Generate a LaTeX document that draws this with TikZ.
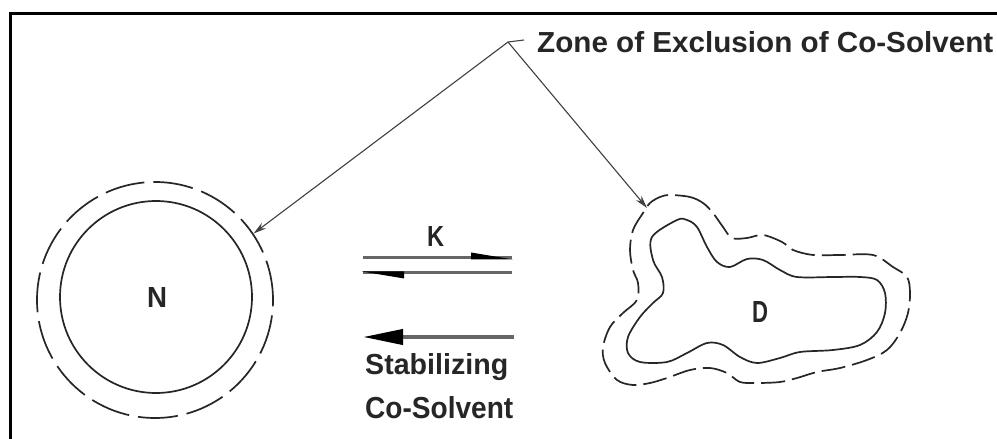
\documentclass[tikz,border=0pt]{standalone}
\usepackage{fontspec}
\setmainfont{Liberation Sans}
\usetikzlibrary{arrows.meta}
\newcommand{\fitlbl}[3]{\resizebox{#1bp}{#2bp}{\bfseries #3}}
\begin{document}
\begin{tikzpicture}[x=1bp,y=-1bp,
  lbl/.style={inner sep=0pt, anchor=base west, text=black!85},
  rim/.style={line width=1.7bp, draw=black!85},
  zonerim/.style={line width=1.7bp, draw=black!85, dash pattern=on 40bp off 9bp},
  droprim/.style={line width=1.7bp, draw=black!85, dash pattern=on 24bp off 7bp},
  leader/.style={line width=1.1bp, draw=black!75, -{Stealth[length=13bp,width=7bp]}},
  eqline/.style={line width=3bp, draw=black!60},
  barb/.style={fill=black}
]
\useasboundingbox (0,0) rectangle (997,439);
\fill[white] (0,0) rectangle (997,439);
% frame
\draw[line width=3bp, black] (10,440) -- (10,14) -- (998,14);

% native state N
\node[circle, rim, minimum size=192bp, inner sep=0pt] (Ncore) at (156,297) {};
\node[circle, zonerim, minimum size=236bp, inner sep=0pt] (Nzone) at (155,300) {};
\node[lbl] (Nlbl) at (147,308) {\fitlbl{20}{20}{N}};

% denatured state D
\draw[rim] plot[smooth cycle, tension=0.55] coordinates {
 (677,220) (652,237) (653,260) (662,277) (663,293) (653,303) (640,317) (628,337)
 (628,353) (640,362) (667,362) (687,353) (707,343) (723,345) (740,357) (757,363)
 (780,358) (800,352) (833,350) (860,345) (877,332) (885,313) (885,293) (877,280)
 (860,277) (833,277) (797,277) (780,270) (763,260) (747,259) (730,267) (717,262)
 (707,247) (697,227) (687,220)};
\draw[droprim] plot[smooth cycle, tension=0.55] coordinates {
 (670,195) (690,197) (703,203) (713,213) (723,227) (732,238) (747,238) (763,235)
 (782,242) (793,250) (813,255) (840,255) (873,255) (893,267) (907,277) (910,293)
 (908,313) (900,333) (887,350) (867,360) (840,368) (817,372) (797,378) (780,382)
 (757,383) (740,382) (727,373) (710,368) (690,370) (667,378) (650,383) (633,385)
 (617,380) (605,363) (603,347) (610,327) (623,313) (637,300) (638,283) (633,270)
 (630,250) (633,230) (643,213) (650,203) (660,197)};
\node[lbl] (Dlbl) at (752,323) {\fitlbl{16}{21}{D}};
\coordinate (Dtip) at (647,208);

% zone label and leaders
\node[lbl] (zone) at (537,53) {\fitlbl{456}{21}{Zone of Exclusion of Co-Solvent}};
\coordinate (apex) at (508,42);
\draw[line width=1.1bp, black!75] (apex) -- ++(16,-2);
\draw[leader] (apex) -- (Nzone.34);
\draw[leader] (apex) -- (Dtip);

% equilibrium arrows (harpoons)
\coordinate (eqAw) at (363,258);
\coordinate (eqAe) at (512,258);
\coordinate (eqBw) at (363,273);
\coordinate (eqBe) at (512,273);
\draw[eqline] (eqAw) -- (eqAe);
\fill[barb] (eqAe) ++(1,1.5) -- ++(-42,0) -- ++(0,-7) -- cycle;
\draw[eqline] (eqBe) -- (eqBw);
\fill[barb] (eqBw) ++(-1,-1.5) -- ++(42,0) -- ++(0,7) -- cycle;
\node[lbl] (K) at (427,247) {\fitlbl{17}{20}{K}};

% stabilizing co-solvent arrow
\coordinate (stW) at (363,337);
\coordinate (stE) at (514,337);
\draw[line width=4bp, draw=black!60, -{Triangle[length=40bp, width=15bp, black]}] (stE) -- (stW);
\node[lbl] (stab) at (365,375) {\fitlbl{143}{21}{Stabilizing}};
\node[lbl] (cosol) at (365,418) {\fitlbl{148}{22}{Co-Solvent}};
\end{tikzpicture}
\end{document}
